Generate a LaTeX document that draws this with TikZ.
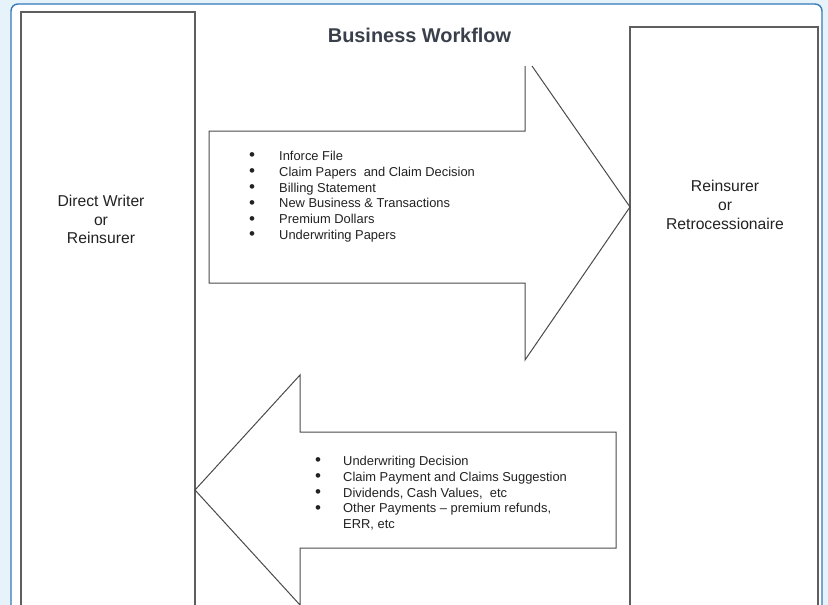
\documentclass[tikz,border=0pt]{standalone}
\usepackage{fontspec}
\setmainfont{Liberation Sans}
\usetikzlibrary{calc}
\definecolor{pageblue}{HTML}{E7F3FB}
\definecolor{framblue}{HTML}{3479B8}
\definecolor{titlegray}{HTML}{3A404B}
\definecolor{boxgray}{HTML}{5E5E5E}
\definecolor{arrowgray}{HTML}{4A4A4A}
\definecolor{textgray}{HTML}{222222}
\newcommand{\itembullet}{\makebox[5pt][c]{\fontsize{17}{15.8}\selectfont\raisebox{-0.4pt}{•}}}
\tikzset{
	partybox/.style={draw=boxgray, line width=1.4pt},
	blockarrow/.style={draw=arrowgray, line width=1pt, line join=miter},
	partylabel/.style={align=center, text=textgray, font=\fontsize{15.7}{18.8}\selectfont},
	itemlist/.style={anchor=base west, inner sep=0pt, text=textgray, font=\fontsize{12.9}{15.8}\selectfont}
}

\begin{document}
\begin{tikzpicture}[x=1pt, y=-1pt]
	%%%%% START %%%%%
	\useasboundingbox (0, 0) rectangle (828, 605);
	\fill[pageblue] (0, 0) rectangle (828, 605);
	\clip (0, 0) rectangle (828, 605);
	
	% page panel
	\draw[fill=white, draw=framblue, line width=1.4pt, rounded corners=7pt] (11, 4) rectangle (822, 640);
	
	\node[font=\fontsize{19.9}{22}\selectfont\bfseries, text=titlegray] (title) at (419.5, 35) {Business Workflow};
	
	% the two parties
	\draw[partybox] (21, 640) rectangle (195, 12);
	\draw[partybox] (630, 640) rectangle (818, 27);
	\node[partylabel] (writer) at (101, 219.5) {Direct Writer\\or\\Reinsurer};
	\node[partylabel] (reinsurer) at (725, 205) {Reinsurer\\or\\Retrocessionaire};
	
	% arrow to the right
	\coordinate (rtip) at (630, 207);
	\draw[blockarrow] (532, 66) -- (rtip) -- (525, 360) -- (525, 283) -- (209, 283)
		-- (209, 131) -- (525, 131) -- (525, 66);
	\node[itemlist] (sentlist) at (249.5, 160.5) {%
		\begin{tabular}[t]{@{}l@{\hspace{24.5pt}}l@{}}
			\itembullet & Inforce File\\
			\itembullet & Claim Papers\ \ and Claim Decision\\
			\itembullet & Billing Statement\\
			\itembullet & New Business \& Transactions\\
			\itembullet & Premium Dollars\\
			\itembullet & Underwriting Papers
		\end{tabular}};
	
	% arrow to the left
	\coordinate (ltip) at (195, 490);
	\draw[blockarrow] (300, 605) -- (ltip) -- (300, 375) -- (300, 432) -- (616, 432)
		-- (616, 548) -- (300, 548) -- (300, 610);
	\node[itemlist] (backlist) at (315.5, 465.5) {%
		\begin{tabular}[t]{@{}l@{\hspace{22.5pt}}l@{}}
			\itembullet & Underwriting Decision\\
			\itembullet & Claim Payment and Claims Suggestion\\
			\itembullet & Dividends, Cash Values,\ \ etc\\
			\itembullet & Other Payments – premium refunds,\\
			  & ERR, etc
		\end{tabular}};
	
	%%%%% END %%%%%
\end{tikzpicture}
\end{document}
